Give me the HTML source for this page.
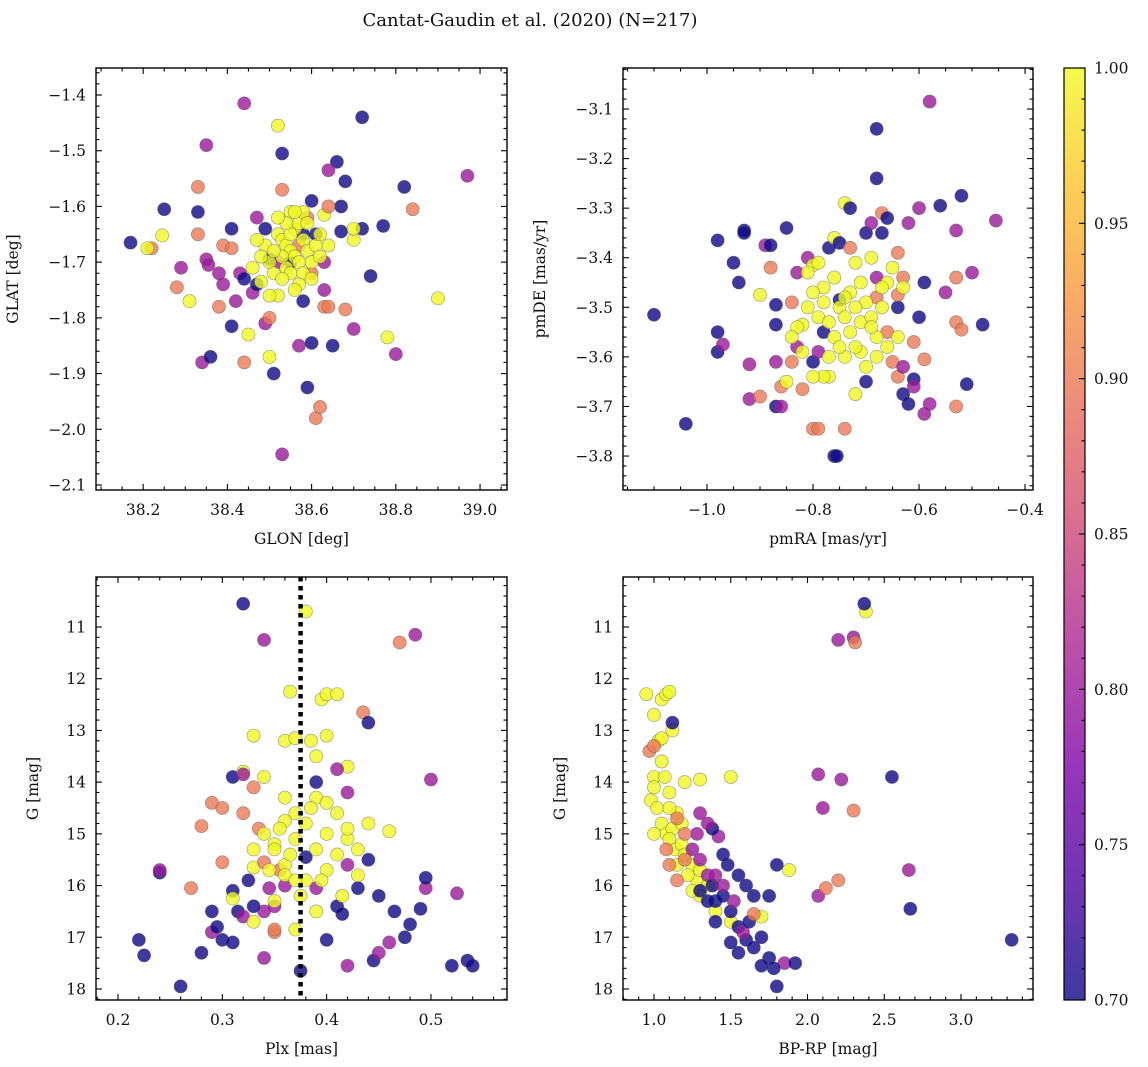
<!DOCTYPE html>
<html><head><meta charset="utf-8">
<style>
html,body{margin:0;padding:0;background:#fff;}
svg{display:block;font-family:"DejaVu Serif","Liberation Serif",serif;}
</style></head>
<body>
<svg id="chart" width="1148" height="1067" viewBox="0 0 1148 1067" xmlns="http://www.w3.org/2000/svg">
<text x="530" y="26" font-size="18" text-anchor="middle" fill="#111">Cantat-Gaudin et al. (2020) (N=217)</text>
<defs>
<linearGradient id="plasma" x1="0" y1="1" x2="0" y2="0">
<stop offset="0" stop-color="#0d0887"/><stop offset="0.125" stop-color="#4c02a1"/><stop offset="0.25" stop-color="#7e03a8"/><stop offset="0.375" stop-color="#a92395"/><stop offset="0.5" stop-color="#cc4778"/><stop offset="0.625" stop-color="#e56b5d"/><stop offset="0.75" stop-color="#f89441"/><stop offset="0.875" stop-color="#fdc328"/><stop offset="1" stop-color="#f0f921"/>
</linearGradient>
</defs>
</svg>
<script>
// Panel 1: GLON vs GLAT
const glon=[38.17,38.25,38.22,38.21,38.245,38.28,38.29,38.31,38.33,38.33,38.33,38.35,38.35,38.355,38.34,38.36,38.38,38.38,38.39,38.39,38.41,38.41,38.42,38.41,38.43,38.44,38.44,38.44,38.45,38.46,38.47,38.47,38.49,38.50,38.50,38.51,38.52,38.53,38.53,38.53,38.57,38.59,38.60,38.61,38.62,38.58,38.60,38.63,38.63,38.64,38.65,38.66,38.67,38.68,38.68,38.70,38.72,38.72,38.74,38.77,38.78,38.80,38.82,38.84,38.90,38.97,38.64,38.67,38.70,38.70,38.63,38.64,
38.55,38.58,38.52,38.60,38.57,38.59,38.49,38.50,38.61,38.63,
38.52,38.53,38.54,38.55,38.56,38.57,38.53,38.54,38.55,38.56,38.57,38.58,38.55,38.56,38.50,38.51,38.49,38.48,38.47,38.46,38.58,38.59,38.60,38.61,38.62,38.58,38.57,38.53,38.52,38.50,38.55,38.54,38.52,38.60,38.62,38.64,38.59,38.51,38.48,38.56];
const glat=[-1.665,-1.605,-1.675,-1.675,-1.652,-1.745,-1.71,-1.77,-1.565,-1.61,-1.65,-1.49,-1.695,-1.705,-1.88,-1.87,-1.72,-1.78,-1.74,-1.67,-1.64,-1.675,-1.77,-1.815,-1.72,-1.73,-1.415,-1.88,-1.83,-1.755,-1.74,-1.62,-1.81,-1.87,-1.80,-1.90,-1.455,-1.505,-1.57,-2.045,-1.85,-1.925,-1.845,-1.98,-1.96,-1.77,-1.59,-1.75,-1.78,-1.78,-1.85,-1.52,-1.60,-1.555,-1.785,-1.82,-1.44,-1.64,-1.725,-1.635,-1.835,-1.865,-1.565,-1.605,-1.765,-1.545,-1.535,-1.645,-1.66,-1.64,-1.615,-1.6,
-1.70,-1.65,-1.70,-1.72,-1.67,-1.62,-1.64,-1.695,-1.65,-1.70,
-1.65,-1.66,-1.67,-1.68,-1.69,-1.70,-1.69,-1.71,-1.72,-1.64,-1.63,-1.61,-1.61,-1.61,-1.70,-1.72,-1.67,-1.69,-1.66,-1.71,-1.66,-1.68,-1.70,-1.67,-1.65,-1.72,-1.74,-1.73,-1.76,-1.76,-1.65,-1.63,-1.62,-1.73,-1.69,-1.67,-1.63,-1.68,-1.735,-1.75];
const prob1=[0.7,0.7,0.9,1,1,0.9,0.8,1,0.9,0.7,0.9,0.8,0.8,0.8,0.8,0.7,0.8,0.9,0.8,0.9,0.7,0.9,0.8,0.7,0.8,0.7,0.8,0.9,1,0.8,0.7,0.8,0.8,1,0.9,0.7,1,0.7,0.9,0.8,0.8,0.7,0.7,0.9,0.9,0.7,0.7,0.8,0.9,0.9,0.7,0.7,0.7,0.7,0.9,0.8,0.7,0.7,0.7,0.7,1,0.8,0.7,0.9,1,0.8,0.8,0.7,1,1,1,0.9,
0.7,0.7,0.8,0.9,0.9,0.9,0.7,0.7,0.7,0.8,
1,1,1,1,1,1,1,1,1,1,1,1,1,1,1,1,1,1,1,1,1,1,1,1,1,1,1,1,1,1,1,1,1,1,1,1,1,1,1,1];

// Panel 2: pmRA vs pmDE
const pmra=[-1.10,-1.04,-0.98,-0.98,-0.98,-0.97,-0.95,-0.93,-0.93,-0.94,-0.92,-0.92,-0.90,-0.90,-0.89,-0.88,-0.88,-0.87,-0.87,-0.87,-0.87,-0.86,-0.86,-0.85,-0.85,-0.84,-0.84,-0.83,-0.83,-0.82,-0.82,-0.81,-0.80,-0.80,-0.80,-0.79,-0.79,-0.78,-0.78,-0.77,-0.77,-0.76,-0.755,-0.76,-0.75,-0.75,-0.74,-0.74,-0.73,-0.73,-0.72,-0.72,-0.71,-0.70,-0.70,-0.69,-0.68,-0.68,-0.68,-0.68,-0.67,-0.67,-0.66,-0.66,-0.65,-0.64,-0.64,-0.64,-0.63,-0.63,-0.62,-0.62,-0.61,-0.61,-0.61,-0.60,-0.60,-0.59,-0.59,-0.58,-0.58,-0.59,-0.56,-0.55,-0.53,-0.53,-0.53,-0.53,-0.52,-0.52,-0.51,-0.50,-0.48,-0.455,-0.63,-0.64,
-0.83,-0.81,-0.80,-0.79,-0.78,-0.77,-0.76,-0.75,-0.74,-0.73,-0.72,-0.71,-0.70,-0.69,-0.68,-0.67,-0.66,-0.69,-0.71,-0.74,-0.75,-0.77,-0.78,-0.80,-0.82,-0.84,-0.70,-0.68,-0.66,-0.64,-0.65,-0.67,-0.73,-0.76,-0.79,-0.81,-0.72,-0.74,-0.69,-0.63];
const pmde=[-3.515,-3.735,-3.59,-3.55,-3.365,-3.575,-3.41,-3.345,-3.35,-3.45,-3.615,-3.685,-3.68,-3.475,-3.375,-3.42,-3.375,-3.495,-3.535,-3.61,-3.70,-3.70,-3.66,-3.34,-3.65,-3.49,-3.61,-3.58,-3.43,-3.665,-3.535,-3.40,-3.745,-3.415,-3.61,-3.745,-3.59,-3.55,-3.46,-3.38,-3.64,-3.80,-3.80,-3.36,-3.37,-3.485,-3.745,-3.29,-3.38,-3.30,-3.41,-3.675,-3.59,-3.35,-3.65,-3.33,-3.24,-3.14,-3.44,-3.48,-3.31,-3.35,-3.55,-3.32,-3.61,-3.64,-3.39,-3.50,-3.675,-3.62,-3.695,-3.33,-3.57,-3.645,-3.66,-3.30,-3.52,-3.45,-3.605,-3.085,-3.695,-3.715,-3.295,-3.47,-3.345,-3.44,-3.53,-3.70,-3.545,-3.275,-3.655,-3.43,-3.535,-3.325,-3.44,-3.475,
-3.54,-3.50,-3.47,-3.52,-3.49,-3.53,-3.56,-3.50,-3.52,-3.55,-3.58,-3.53,-3.49,-3.52,-3.56,-3.50,-3.45,-3.40,-3.45,-3.60,-3.58,-3.60,-3.64,-3.64,-3.59,-3.56,-3.62,-3.60,-3.58,-3.56,-3.42,-3.46,-3.47,-3.44,-3.41,-3.43,-3.50,-3.48,-3.54,-3.46];
const prob2=[0.7,0.7,0.7,0.7,0.7,0.8,0.7,0.7,0.7,0.7,0.8,0.8,0.9,1,0.8,0.9,0.7,0.7,0.7,0.8,0.7,0.8,0.9,0.7,1,0.9,0.9,0.8,0.8,0.9,1,0.8,0.9,1,0.7,0.9,0.8,0.7,1,0.7,1,0.7,0.7,1,0.7,0.7,0.9,1,0.9,0.7,1,1,1,0.7,0.7,0.8,0.7,0.7,0.8,0.9,0.9,0.7,0.9,0.7,0.9,0.9,0.9,0.7,0.7,0.8,0.7,0.8,0.9,0.7,0.8,0.8,0.7,0.7,0.9,0.8,0.8,0.8,0.7,0.8,0.8,0.9,0.9,0.9,0.9,0.7,0.7,0.8,0.7,0.8,0.9,0.9,
1,1,1,1,1,1,1,1,1,1,1,1,1,1,1,1,1,1,1,1,1,1,1,1,1,1,1,1,1,1,1,1,1,1,1,1,1,1,1,1];

// Panel 3: Plx vs G
const plx=[0.22,0.225,0.24,0.24,0.26,0.27,0.28,0.28,0.29,0.29,0.29,0.295,0.30,0.30,0.30,0.31,0.31,0.31,0.31,0.315,0.32,0.32,0.32,0.32,0.32,0.325,0.33,0.33,0.33,0.33,0.335,0.34,0.34,0.34,0.34,0.34,0.345,0.35,0.35,0.35,0.355,0.36,0.36,0.36,0.365,0.37,0.37,0.375,0.38,0.38,0.385,0.39,0.39,0.395,0.40,0.40,0.40,0.41,0.41,0.415,0.42,0.42,0.43,0.43,0.435,0.44,0.44,0.445,0.45,0.45,0.46,0.46,0.465,0.47,0.475,0.48,0.485,0.49,0.495,0.495,0.50,0.52,0.525,0.535,0.54,0.41,0.42,0.39,0.44,0.42,0.33,0.35,
0.34,0.35,0.36,0.37,0.38,0.39,0.40,0.41,0.38,0.36,0.37,0.40,0.41,0.42,0.39,0.355,0.365,0.345,0.395,0.375,0.385,0.40,0.43,0.415,0.35,0.33,0.37,0.39,0.42,0.36];
const gmag3=[17.05,17.35,15.75,15.70,17.95,16.05,17.3,14.85,16.5,16.9,14.4,16.8,15.55,17.05,14.5,13.9,16.1,17.1,16.25,16.5,10.55,13.8,13.85,14.6,16.6,15.9,13.1,15.65,16.7,14.1,14.9,11.25,17.4,16.5,13.9,15.55,16.05,16.9,15.2,16.4,15.7,13.2,14.75,16.0,12.25,13.15,16.85,17.65,10.7,15.45,13.2,14.0,13.5,12.4,12.3,17.05,13.1,12.3,16.4,16.55,17.55,13.7,16.05,15.3,12.65,12.85,14.8,17.45,16.2,17.3,17.1,14.95,16.5,11.3,17.0,16.75,11.15,16.45,16.05,15.85,13.95,17.55,16.15,17.45,17.55,13.75,14.2,16.05,15.5,15.6,16.4,16.85,
15.0,15.3,15.6,15.1,14.8,15.3,15.0,14.6,15.9,15.8,14.6,15.7,15.4,15.1,14.3,14.9,15.4,15.7,15.9,16.2,14.5,14.4,15.8,16.2,16.3,15.3,15.9,16.5,14.9,14.3];
const prob3=[0.7,0.7,0.7,0.8,0.7,0.9,0.7,0.9,0.7,0.8,0.9,0.7,0.9,0.7,0.9,0.7,0.7,0.7,1,0.7,0.7,1,0.8,0.9,0.8,0.7,1,1,1,0.9,0.9,0.8,0.8,0.8,1,0.9,0.8,0.9,1,0.8,0.9,1,1,0.8,1,1,1,0.7,1,0.7,1,0.7,1,1,1,0.7,1,1,0.7,0.7,0.8,1,0.7,1,0.9,0.7,1,0.7,0.7,0.8,0.8,1,0.7,0.9,0.7,0.7,0.8,0.7,0.8,0.7,0.8,0.7,0.8,0.7,0.7,0.8,0.8,0.8,0.7,0.8,0.7,0.9,
1,1,1,1,1,1,1,1,1,1,1,1,1,1,1,1,1,1,1,1,1,1,1,1,1,1,1,1,1,1];
const plxLine=[0.375];

// Panel 4: BP-RP vs G
const bprp=[0.95,1.0,1.05,1.08,1.1,1.03,1.05,1.0,0.98,1.0,1.05,1.02,1.07,1.1,1.05,1.08,1.12,1.15,1.1,1.14,1.18,1.2,1.25,1.28,1.3,1.35,1.25,1.4,1.5,1.7,1.2,1.3,1.5,1.88,1.15,1.22,1.3,1.1,1.0,1.12,2.38,1.18,
0.97,1.0,1.12,1.08,1.1,1.15,1.2,1.25,1.3,1.35,1.38,1.4,1.45,1.5,1.55,1.6,1.65,1.5,1.55,1.58,1.62,1.7,1.75,1.8,1.85,1.92,1.78,1.7,1.65,1.75,1.8,1.48,1.42,1.38,1.35,1.3,1.28,1.45,1.55,1.6,1.52,1.45,1.4,1.2,1.15,2.07,2.1,2.22,2.3,2.2,2.3,2.31,2.37,2.55,2.66,2.67,2.07,2.12,2.2,3.33,1.65,1.35,1.4,1.3];
const gmag4=[12.3,12.7,12.4,12.3,12.25,13.2,13.15,13.9,14.35,14.1,13.6,14.5,13.9,14.2,14.8,15.0,14.9,14.6,15.1,15.3,15.2,15.4,15.6,15.9,16.2,16.0,16.1,16.5,16.7,16.6,14.0,13.95,13.9,15.7,15.6,15.8,15.7,14.5,15.0,13.0,10.7,14.8,
13.4,13.3,12.85,15.3,15.6,15.9,15.5,15.3,15.5,15.8,16.0,16.3,16.2,16.5,16.8,17.05,17.2,17.1,17.3,16.9,16.7,17.0,17.4,17.95,17.5,17.5,17.6,17.55,16.2,16.2,15.6,15.6,15.05,14.9,14.8,14.6,15.0,16.0,15.8,16.0,16.3,15.4,15.8,15.0,14.7,13.85,14.5,13.95,14.55,11.25,11.2,11.3,10.55,13.9,15.7,16.45,16.2,16.05,15.9,17.05,16.55,16.3,16.7,16.1];
const prob4=[1,1,1,1,1,1,1,1,1,1,1,1,1,1,1,1,1,1,1,1,1,1,1,1,1,1,1,1,1,1,1,1,1,1,1,1,1,1,1,1,1,1,
0.9,0.9,0.7,0.9,0.9,0.9,0.9,0.8,0.8,0.8,0.7,0.7,0.7,0.7,0.7,0.7,0.7,0.7,0.7,0.8,0.7,0.7,0.7,0.7,0.8,0.7,0.7,0.7,0.7,0.7,0.7,0.7,0.8,0.7,0.8,0.8,0.8,0.8,0.7,0.7,0.8,0.7,0.8,0.9,0.9,0.8,0.8,0.8,0.9,0.8,0.8,0.9,0.7,0.7,0.8,0.7,0.8,0.9,0.9,0.7,0.9,0.7,0.7,0.7];

const cbTicks=[0.70,0.75,0.80,0.85,0.90,0.95,1.00];

const NS='http://www.w3.org/2000/svg';
const svg=document.getElementById('chart');
function el(tag,attrs,parent){const e=document.createElementNS(NS,tag);for(const k in attrs)e.setAttribute(k,attrs[k]);(parent||svg).appendChild(e);return e;}
const stops=[[13,8,135],[76,2,161],[126,3,168],[169,35,149],[204,71,120],[229,107,93],[248,148,65],[253,195,40],[240,249,33]];
function plasma(v){v=Math.max(0,Math.min(1,v));const f=v*8,i=Math.min(7,Math.floor(f)),t=f-i;const a=stops[i],b=stops[i+1];return 'rgb('+a.map((c,k)=>Math.round(c+(b[k]-c)*t)).join(',')+')';}
function fmt(v,d){return (v<0?'\u2212':'')+Math.abs(v).toFixed(d);}

function panel(o){
  const g=el('g',{});
  
  
  const sx=v=>o.x0+(v-o.xmin)/(o.xmax-o.xmin)*(o.x1-o.x0);
  const sy=o.invert?(v=>o.y0+(v-o.ymin)/(o.ymax-o.ymin)*(o.y1-o.y0)):(v=>o.y1-(v-o.ymin)/(o.ymax-o.ymin)*(o.y1-o.y0));
  const pg=el('g',{},g);
  
  
  for(let i=0;i<o.xs.length;i++){
    const c=el('circle',{cx:sx(o.xs[i]),cy:sy(o.ys[i]),r:6.6,fill:plasma((o.ps[i]-0.7)/0.3),'fill-opacity':0.8,stroke:'#555','stroke-opacity':0.6,'stroke-width':0.6},pg);
    
    
  }
  if(o.vline){for(const v of o.vline){const l=el('line',{x1:sx(v),x2:sx(v),y1:o.y0,y2:o.y1,stroke:'#000','stroke-width':4.5,'stroke-dasharray':'4.5,4.5'},g);
    
    }}
  const fr=el('rect',{x:o.x0,y:o.y0,width:o.x1-o.x0,height:o.y1-o.y0,fill:'none',stroke:'#000','stroke-width':1.4},g);
  
  
  const tk={stroke:'#000','stroke-width':1.1};
  for(let v=o.xt0;v<=o.xmax+1e-9;v+=o.xstep/o.xminor){
    if(v<o.xmin-1e-9)continue;
    const k=Math.round((v-o.xt0)/(o.xstep/o.xminor));const major=k%o.xminor===0;const L=major?6:3.5;const X=sx(v);
    el('line',Object.assign({x1:X,x2:X,y1:o.y1,y2:o.y1-L},tk),g);el('line',Object.assign({x1:X,x2:X,y1:o.y0,y2:o.y0+L},tk),g);
    if(major){const t=el('text',{x:X,y:o.y1+25,'font-size':15.5,'text-anchor':'middle',fill:'#111'},g);t.textContent=fmt(v,o.xd);
      
      }
  }
  for(let v=o.yt0;v<=o.ymax+1e-9;v+=o.ystep/o.yminor){
    if(v<o.ymin-1e-9)continue;
    const k=Math.round((v-o.yt0)/(o.ystep/o.yminor));const major=k%o.yminor===0;const L=major?6:3.5;const Y=sy(v);
    el('line',Object.assign({x1:o.x0,x2:o.x0+L,y1:Y,y2:Y},tk),g);el('line',Object.assign({x1:o.x1,x2:o.x1-L,y1:Y,y2:Y},tk),g);
    if(major){const t=el('text',{x:o.x0-10,y:Y+5.5,'font-size':15.5,'text-anchor':'end',fill:'#111'},g);t.textContent=fmt(v,o.yd);
      
      }
  }
  const xl=el('text',{x:(o.x0+o.x1)/2,y:o.y1+54,'font-size':15.5,'text-anchor':'middle',fill:'#111'},g);xl.textContent=o.xlabel;
  
  
  const yx=o.x0-(o.ylw||66),yy=(o.y0+o.y1)/2;
  const yl=el('text',{x:yx,y:yy,'font-size':15.5,'text-anchor':'middle',fill:'#111',transform:'rotate(-90 '+yx+' '+yy+')'},g);yl.textContent=o.ylabel;
  
  
}

panel({name:'glon-glat-panel',x0:96,x1:507,y0:68,y1:490,xmin:38.088,xmax:39.064,ymin:-2.109,ymax:-1.3515,xt0:38.0,xstep:0.2,xminor:4,xd:1,yt0:-2.2,ystep:0.1,yminor:5,yd:1,xs:glon,ys:glat,ps:prob1,xlabel:'GLON [deg]',ylabel:'GLAT [deg]',ylw:78});
panel({name:'proper-motion-panel',x0:623,x1:1033,y0:68,y1:490,xmin:-1.1585,xmax:-0.385,ymin:-3.8685,ymax:-3.0173,xt0:-1.2,xstep:0.2,xminor:4,xd:1,yt0:-3.9,ystep:0.1,yminor:5,yd:1,xs:pmra,ys:pmde,ps:prob2,xlabel:'pmRA [mas/yr]',ylabel:'pmDE [mas/yr]',ylw:78});
panel({name:'parallax-magnitude-panel',x0:96,x1:507,y0:577,y1:1000,xmin:0.1789,xmax:0.5729,ymin:10.033,ymax:18.213,invert:true,xt0:0.1,xstep:0.1,xminor:5,xd:1,yt0:10,ystep:1,yminor:5,yd:0,xs:plx,ys:gmag3,ps:prob3,vline:plxLine,xlabel:'Plx [mas]',ylabel:'G [mag]',ylw:58});
panel({name:'color-magnitude-panel',x0:623,x1:1033,y0:577,y1:1000,xmin:0.798,xmax:3.469,ymin:10.033,ymax:18.213,invert:true,xt0:0.5,xstep:0.5,xminor:5,xd:1,yt0:10,ystep:1,yminor:5,yd:0,xs:bprp,ys:gmag4,ps:prob4,xlabel:'BP-RP [mag]',ylabel:'G [mag]',ylw:58});

const cb=el('g',{});


el('rect',{x:1064,y:68,width:21,height:932,fill:'url(#plasma)','fill-opacity':0.8},cb);
el('rect',{x:1064,y:68,width:21,height:932,fill:'none',stroke:'#000','stroke-width':1.2},cb);
const cy=v=>1000-(v-0.7)/0.3*932;
for(let k=0;k<=30;k++){const v=0.7+k*0.01,Y=cy(v),major=k%5===0;
  el('line',{x1:1085,x2:1085-(major?6:3.5),y1:Y,y2:Y,stroke:'#000','stroke-width':1.1},cb);}
for(const v of cbTicks){const t=el('text',{x:1094,y:cy(v)+5.5,'font-size':15.5,fill:'#111'},cb);t.textContent=v.toFixed(2);
  
  }
</script>
</body></html>
